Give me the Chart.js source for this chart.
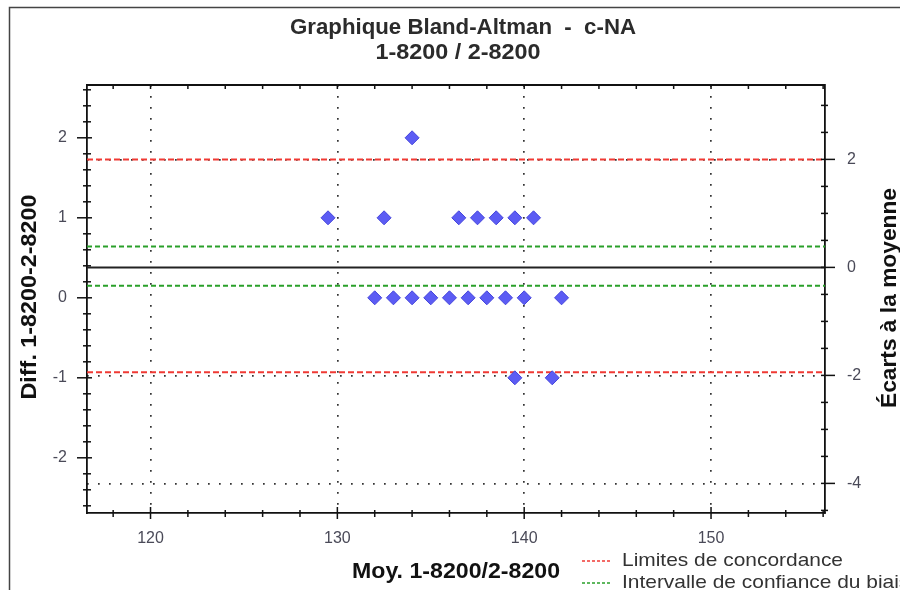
<!DOCTYPE html>
<html>
<head>
<meta charset="utf-8">
<script src="https://cdn.jsdelivr.net/npm/chart.js@4/dist/chart.umd.min.js"></script>
<style>
html,body{margin:0;padding:0;background:#fff;overflow:hidden;}
canvas{display:block;}
</style>
</head>
<body>
<canvas id="c" width="900" height="590"></canvas>
<script>
// ---- data ----
const meanX = [134, 129.5, 132.5, 136.5, 137.5, 138.5, 139.5, 140.5,
               132, 133, 134, 135, 136, 137, 138, 139, 140, 142,
               139.5, 141.5];
const diffY = [2, 1, 1, 1, 1, 1, 1, 1,
               0, 0, 0, 0, 0, 0, 0, 0, 0, 0,
               -1, -1];
const bias = 0.38;
const sdDiff = 0.675;
const loaUpper = 1.73;
const loaLower = -0.93;
const ciUpper = 0.64;
const ciLower = 0.15;
const xRange = [116.6, 156.1];
const yRange = [-2.69, 2.66];
const xTickLabels = [120, 130, 140, 150];
const yTickLabels = [-2, -1, 0, 1, 2];
const rTickLabels = [-4, -2, 0, 2];
const titleLines = ['Graphique Bland-Altman  -  c-NA', '1-8200 / 2-8200'];
const xTitle = 'Moy. 1-8200/2-8200';
const yTitle = 'Diff. 1-8200-2-8200';
const rTitle = 'Écarts à la moyenne';
const legendItems = [
  {text: 'Limites de concordance', color: '#f03a34'},
  {text: 'Intervalle de confiance du biais', color: '#2aa02a'}
];

// minor tick positions
function steps(a, b, s) { const r = []; for (let v = a; v <= b + 1e-9; v += s) r.push(Math.round(v * 100) / 100); return r; }
const xTicksAll = steps(118, 156, 2);
const yTicksAll = steps(-2.6, 2.6, 0.2);
const rTicksAll = steps(-4.5, 3, 0.5);

const rRange = [(yRange[0] - bias) / sdDiff, (yRange[1] - bias) / sdDiff];

function hline(y, color, dash, width) {
  return {
    type: 'line',
    data: [{x: xRange[0], y: y}, {x: xRange[1], y: y}],
    borderColor: color, borderDash: dash, borderWidth: width,
    pointRadius: 0, fill: false, yAxisID: 'y', xAxisID: 'x'
  };
}

const FAM = "'Liberation Sans', Arial, sans-serif";
Chart.defaults.font.family = FAM;

function fitText(ctx, text, cx, cy, font, targetW, rot) {
  ctx.save();
  ctx.font = font;
  const w = ctx.measureText(text).width;
  ctx.translate(cx, cy);
  if (rot) ctx.rotate(rot);
  ctx.scale(targetW / w, 1);
  ctx.fillText(text, 0, 0);
  ctx.restore();
  return targetW / w;
}

const deco = {
  id: 'deco',
  beforeDraw(chart) {
    const ctx = chart.ctx;
    ctx.save();
    ctx.fillStyle = '#fff';
    ctx.fillRect(0, 0, chart.width, chart.height);
    ctx.restore();
  },
  afterDraw(chart) {
    const ctx = chart.ctx;
    const a = chart.chartArea;
    ctx.save();
    // outer frame
    ctx.strokeStyle = '#444';
    ctx.lineWidth = 1.5;
    ctx.strokeRect(9.5, 7.5, 1200, 1200);
    // top border of plot
    ctx.strokeStyle = '#111';
    ctx.lineWidth = 1.8;
    ctx.beginPath(); ctx.moveTo(a.left, a.top); ctx.lineTo(a.right, a.top); ctx.stroke();
    // tick marks
    ctx.lineWidth = 1.5;
    const xs = chart.scales.x, ys = chart.scales.y, rs = chart.scales.y2;
    xs.ticks.forEach(t => {
      const px = xs.getPixelForValue(t.value);
      const major = xTickLabels.includes(t.value);
      ctx.beginPath();
      ctx.moveTo(px, a.bottom - (major ? 6 : 3));
      ctx.lineTo(px, a.bottom + (major ? 6 : 4));
      ctx.moveTo(px, a.top);
      ctx.lineTo(px, a.top + 4);
      ctx.stroke();
    });
    ys.ticks.forEach(t => {
      const py = ys.getPixelForValue(t.value);
      const major = yTickLabels.includes(t.value);
      ctx.beginPath();
      ctx.moveTo(a.left - (major ? 10 : 4), py);
      ctx.lineTo(a.left + (major ? 5 : 4), py);
      ctx.stroke();
    });
    rs.ticks.forEach(t => {
      const py = rs.getPixelForValue(t.value);
      const major = rTickLabels.includes(t.value);
      ctx.beginPath();
      ctx.moveTo(a.right - 4, py);
      ctx.lineTo(a.right + (major ? 10 : 3), py);
      ctx.stroke();
    });
    // titles
    ctx.textAlign = 'center';
    ctx.textBaseline = 'middle';
    ctx.fillStyle = '#2b2b2b';
    const bold = "bold 22px " + FAM;
    fitText(ctx, titleLines[0], 463, 28, bold, 346, 0);
    fitText(ctx, titleLines[1], 458, 53, bold, 165, 0);
    ctx.fillStyle = '#111';
    fitText(ctx, xTitle, 456, 572, bold, 208, 0);
    fitText(ctx, yTitle, 30, 297, bold, 205, -Math.PI / 2);
    fitText(ctx, rTitle, 890, 298, bold, 220, -Math.PI / 2);
    // legend
    ctx.textAlign = 'left';
    const lf = "19px " + FAM;
    ctx.font = lf;
    const sc = 221 / ctx.measureText(legendItems[0].text).width;
    legendItems.forEach((it, i) => {
      const y = 561 + i * 22;
      ctx.strokeStyle = it.color;
      ctx.lineWidth = 1.6;
      ctx.setLineDash([3, 2]);
      ctx.beginPath(); ctx.moveTo(582, y); ctx.lineTo(611, y); ctx.stroke();
      ctx.setLineDash([]);
      ctx.fillStyle = '#333';
      ctx.save();
      ctx.translate(622, y);
      ctx.scale(sc, 1);
      ctx.font = lf;
      ctx.fillText(it.text, 0, 0);
      ctx.restore();
    });
    ctx.restore();
  }
};

const tickFont = {size: 16};
const tickColor = '#4a4a58';

new Chart(document.getElementById('c'), {
  type: 'scatter',
  data: {
    datasets: [
      {
        type: 'scatter',
        data: meanX.map((x, i) => ({x: x, y: diffY[i]})),
        pointStyle: 'rectRot',
        radius: 7,
        hoverRadius: 7,
        backgroundColor: '#5c5cf4',
        borderColor: '#4646dc',
        borderWidth: 1,
        yAxisID: 'y', xAxisID: 'x'
      },
      hline(bias, '#222', [], 2),
      hline(ciUpper, '#2aa02a', [5, 3], 2),
      hline(ciLower, '#2aa02a', [5, 3], 2),
      hline(loaUpper, '#f03a34', [6, 3], 2),
      hline(loaLower, '#f03a34', [6, 3], 2)
    ]
  },
  options: {
    responsive: false,
    animation: false,
    events: [],
    layout: {padding: {top: 85, left: 0, right: 0, bottom: 0}},
    plugins: {legend: {display: false}, tooltip: {enabled: false}, title: {display: false}},
    scales: {
      x: {
        type: 'linear', position: 'bottom',
        min: xRange[0], max: xRange[1],
        afterBuildTicks: s => { s.ticks = xTicksAll.map(v => ({value: v})); },
        afterFit: s => { s.height = 77; },
        ticks: {
          autoSkip: false, maxRotation: 0, padding: 16, font: tickFont, color: tickColor,
          callback: v => xTickLabels.includes(v) ? String(v) : ''
        },
        grid: {
          drawTicks: false,
          color: c => (c.tick && xTickLabels.includes(c.tick.value)) ? '#333' : 'rgba(0,0,0,0)',
          lineWidth: 1.7
        },
        border: {display: true, color: '#111', width: 1.8, dash: [1.7, 9.3]}
      },
      y: {
        type: 'linear', position: 'left',
        min: yRange[0], max: yRange[1],
        afterBuildTicks: s => { s.ticks = yTicksAll.map(v => ({value: v})); },
        afterFit: s => { s.width = 87; },
        ticks: {
          autoSkip: false, padding: 20, font: tickFont, color: tickColor,
          callback: v => yTickLabels.includes(v) ? String(v) : ''
        },
        grid: {display: true, drawTicks: false, drawOnChartArea: false},
        border: {display: true, color: '#111', width: 1.8}
      },
      y2: {
        type: 'linear', position: 'right',
        min: rRange[0], max: rRange[1],
        afterBuildTicks: s => { s.ticks = rTicksAll.map(v => ({value: v})); },
        afterFit: s => { s.width = 75; },
        ticks: {
          autoSkip: false, padding: 22, font: tickFont, color: tickColor,
          callback: v => rTickLabels.includes(v) ? String(v) : ''
        },
        grid: {
          drawTicks: false,
          color: c => (c.tick && rTickLabels.includes(c.tick.value) && c.tick.value !== 0) ? '#333' : 'rgba(0,0,0,0)',
          lineWidth: 1.7
        },
        border: {display: true, color: '#111', width: 1.8, dash: [1.7, 9.3]}
      }
    }
  },
  plugins: [deco]
});
</script>
</body>
</html>
